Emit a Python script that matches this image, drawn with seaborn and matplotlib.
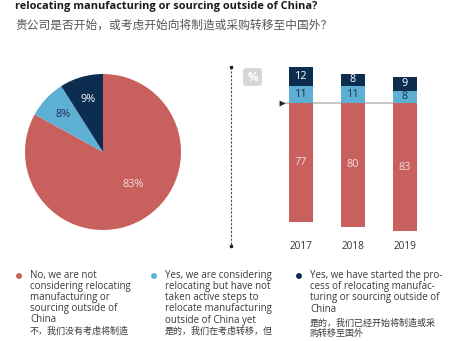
import matplotlib
matplotlib.use("Agg")
import matplotlib.pyplot as plt
import seaborn as sns
import numpy as np
from matplotlib.patches import FancyBboxPatch

# ---------------- data ----------------
years = ["2017", "2018", "2019"]
not_considering = [77, 80, 83]
considering = [11, 11, 8]
started = [12, 8, 9]

pie_values = [83, 8, 9]

c_no = "#C8605D"
c_consider = "#5DAFD4"
c_started = "#0C2D50"

title_en = "relocating manufacturing or sourcing outside of China?"
title_zh = "贵公司是否开始，或考虑开始向将制造或采购转移至中国外？"

legend_en = [
    ["No, we are not", "considering relocating", "manufacturing or",
     "sourcing outside of", "China"],
    ["Yes, we are considering", "relocating but have not", "taken active steps to",
     "relocate manufacturing", "outside of China yet"],
    ["Yes, we have started the pro-", "cess of relocating manufac-",
     "turing or sourcing outside of", "China"],
]
legend_zh = [
    ["不，我们没有考虑将制造"],
    ["是的，我们在考虑转移，但"],
    ["是的，我们已经开始将制造或采", "购转移至国外"],
]

# ---------------- style ----------------
sns.set_theme(style="white")
plt.rcParams['font.family'] = ['Open Sans', 'Noto Sans CJK SC', 'DejaVu Sans']

W, H = 454, 341
fig = plt.figure(figsize=(W / 100, H / 100), dpi=100)
fig.patch.set_facecolor("white")


def px_axes(x0, y0, x1, y1):
    return fig.add_axes([x0 / W, 1 - y1 / H, (x1 - x0) / W, (y1 - y0) / H])


# ---------------- pie ----------------
axp = px_axes(25, 74, 181, 230)
wedges, texts, autotexts = axp.pie(
    pie_values, colors=[c_no, c_consider, c_started], startangle=90,
    counterclock=False, radius=1, autopct=lambda p: f"{p:.0f}%",
    pctdistance=0.7, wedgeprops=dict(linewidth=0),
    textprops=dict(fontsize=7.8))
axp.set_xlim(-1, 1)
axp.set_ylim(-1, 1)
autotexts[0].set_position((0.385, -0.42))
autotexts[0].set_color("#F6DEDD")
autotexts[1].set_color("#1E3550")
autotexts[2].set_color("#FFFFFF")

# ---------------- stacked bars ----------------
axb = px_axes(275, 60, 430, 235)
bw = 0.46
sns.barplot(x=years, y=[-v for v in not_considering], color=c_no,
            saturation=1, width=bw, ax=axb, linewidth=0)
sns.barplot(x=years, y=list(np.add(considering, started)), color=c_started,
            saturation=1, width=bw, ax=axb, linewidth=0)
sns.barplot(x=years, y=considering, color=c_consider,
            saturation=1, width=bw, ax=axb, linewidth=0)
axb.hlines(0, -0.35, 2.0, color="#BDBDBD", lw=1.2, zorder=0.5)

for i in range(len(years)):
    n, c, s = not_considering[i], considering[i], started[i]
    axb.text(i, -n / 2, str(n), ha="center", va="center", fontsize=7.8,
             color="#F6DEDD")
    axb.text(i, c / 2, str(c), ha="center", va="center", fontsize=7.8,
             color="#1E3550")
    axb.text(i, c + s / 2, str(s), ha="center", va="center", fontsize=7.8,
             color="#FFFFFF")

axb.set_xlim(-0.5, 2.48)
axb.set_ylim(-85.4, 27.8)
axb.set_xticks(range(len(years)))
axb.set_xticklabels(years, fontsize=7.2, color="#333333")
axb.tick_params(axis="x", length=0, pad=4)
axb.set_yticks([])
axb.set_xlabel("")
axb.set_ylabel("")
for sp in axb.spines.values():
    sp.set_visible(False)
axb.patch.set_alpha(0)

# ---------------- overlay decorations & text ----------------
ov = fig.add_axes([0, 0, 1, 1])
ov.set_xlim(0, W)
ov.set_ylim(H, 0)
ov.axis("off")
ov.patch.set_alpha(0)

ov.text(15, 7, title_en, fontsize=7.9, fontweight="bold", va="center",
        ha="left", color="#1A1A1A")
ov.text(15, 25, title_zh, fontsize=8.45, va="center", ha="left",
        color="#555555")

# dashed divider
ov.plot([231, 231], [67, 246], color="#444444", lw=0.8, dashes=(2, 1.5))
ov.plot([231, 231], [67, 246], ls="none", marker="s", ms=1.8, color="#222222")

# % badge
ov.add_patch(FancyBboxPatch((243, 68), 19, 18,
                            boxstyle="round,pad=0,rounding_size=3",
                            fc="#D9D6D3", ec="none"))
ov.text(252.5, 77.5, "%", ha="center", va="center", fontsize=8.5,
        fontweight="bold", color="white")

# baseline triangle
ov.scatter([282], [103], marker=">", s=18, color="#222222", linewidths=0)

# legend
cols_x = [19, 154, 299]
text_x = [30, 165, 310]
en_y = [275.7, 286.7, 297.7, 309, 320]
zh_start = [331.7, 331.7, 322.7]
ov.scatter(cols_x, [276, 276, 276], s=18,
           c=[c_no, c_consider, c_started], linewidths=0)
for k in range(3):
    for j, line in enumerate(legend_en[k]):
        ov.text(text_x[k], en_y[j], line, fontsize=7.0, va="center",
                ha="left", color="#3A3A3A")
    for j, line in enumerate(legend_zh[k]):
        ov.text(text_x[k], zh_start[k] + 11 * j, line, fontsize=6.5,
                va="center", ha="left", color="#3A3A3A")

fig.savefig("out.png", dpi=100)
